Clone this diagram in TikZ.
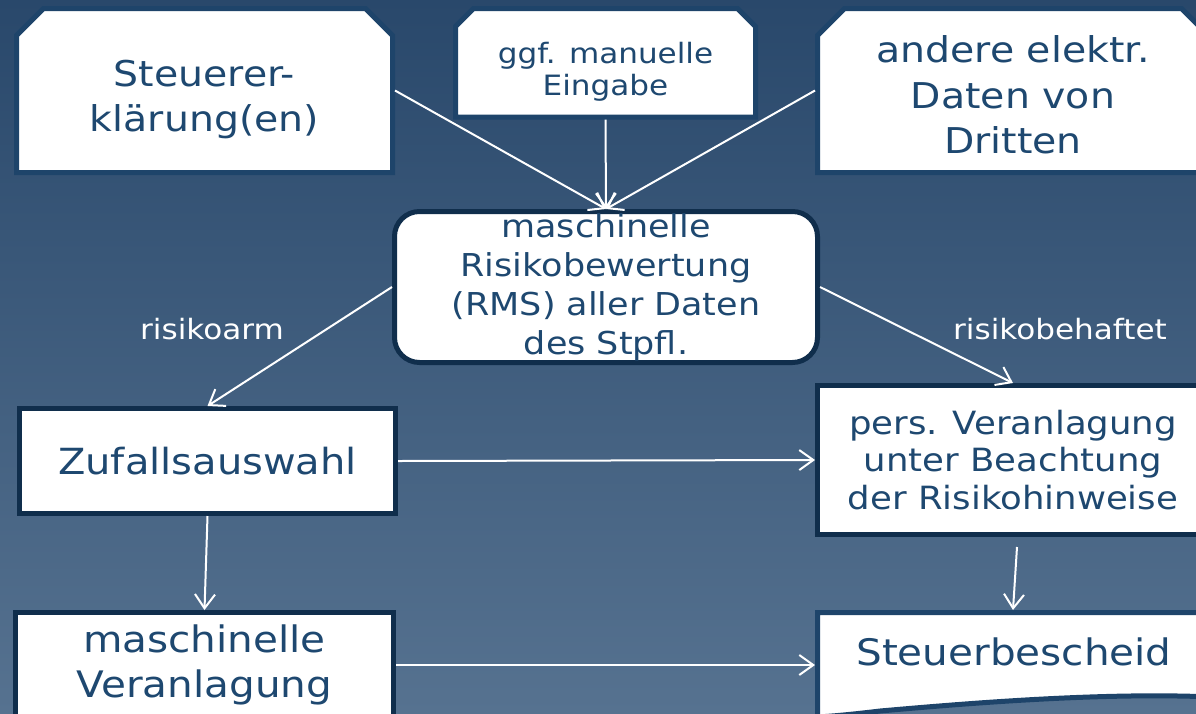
\documentclass[tikz,border=0pt]{standalone}
\usepackage{fontspec}
\setmainfont{DejaVu Sans}[FakeStretch=1.11]
\usetikzlibrary{arrows.meta,calc}
\definecolor{bgtop}{RGB}{41,72,107}
\definecolor{bgbot}{RGB}{86,114,144}
\definecolor{txtblue}{RGB}{30,72,112}
\definecolor{rimblue}{RGB}{30,68,106}
\definecolor{rimdark}{RGB}{16,46,76}
\newcommand{\snipframe}[2]{
	\filldraw[snip_line] ($(#1.south west)+(2.5,-2.5)$) -- ($(#1.north west)+(2.5,2.5+#2)$) -- ($(#1.north west)+(2.5+#2,2.5)$)
		-- ($(#1.north east)+(-2.5-#2,2.5)$) -- ($(#1.north east)+(-2.5,2.5+#2)$) -- ($(#1.south east)+(-2.5,-2.5)$) -- cycle;
}

\begin{document}
\begin{tikzpicture}[x=1pt,y=-1pt,>={Straight Barb[length=14pt,width=20pt]}]
		\tikzstyle{snip_box}=[rectangle, inner sep=0pt, outer sep=2.5pt];
		\tikzstyle{snip_line}=[draw=rimblue, fill=white, line width=5pt];
		\tikzstyle{flow_box}=[rectangle, draw=rimdark, fill=white, line width=5pt, inner sep=0pt, text=txtblue, align=center];
		\tikzstyle{box_text}=[text=txtblue, align=center, inner sep=0pt];
		\tikzstyle{label_edge}=[text=white, inner sep=0pt, font=\fontsize{28}{34}\selectfont];
		\tikzstyle{flow_arrow}=[->, white, line width=2pt];

		\useasboundingbox (0,0) rectangle (1196,713);
		\clip (0,0) rectangle (1196,713);
		\shade[top color=bgtop, bottom color=bgbot] (0,0) rectangle (1196,713);

		% inputs
		\node[snip_box, minimum width=376pt, minimum height=164pt] (erkl) at (204.5,90.5) {};
		\snipframe{erkl}{27}
		\node[box_text, font=\fontsize{35.5}{45}\selectfont] (erkl_t) at (204.5,100) {Steuerer-\\klärung(en)};
		\node[snip_box, minimum width=300pt, minimum height=108.5pt] (eingabe) at (605.5,62.75) {};
		\snipframe{eingabe}{18}
		\node[box_text, font=\fontsize{28}{32}\selectfont] (eingabe_t) at (605.5,72) {ggf. manuelle\\Eingabe};
		\node[snip_box, minimum width=391pt, minimum height=164pt] (dritte) at (1013,90.5) {};
		\snipframe{dritte}{27}
		\node[box_text, font=\fontsize{35.5}{45.5}\selectfont] (dritte_t) at (1013,95) {andere elektr.\\Daten von\\Dritten};

		% risk check
		\node[flow_box, rounded corners=25pt, minimum width=423pt, minimum height=151pt, font=\fontsize{31.5}{39}\selectfont] (rms) at (606,287) {maschinelle\\Risikobewertung\\(RMS) aller Daten\\des Stpfl.};

		\node[flow_box, minimum width=376pt, minimum height=105pt, font=\fontsize{36}{45}\selectfont] (zufall) at (207.5,461) {Zufallsauswahl};
		\node[flow_box, minimum width=391pt, minimum height=149pt, font=\fontsize{32}{37.5}\selectfont] (pers) at (1013,460) {pers. Veranlagung\\unter Beachtung\\der Risikohinweise};
		\node[flow_box, minimum width=378pt, minimum height=105pt, font=\fontsize{36.5}{45}\selectfont] (masch) at (204.5,665) {maschinelle\\Veranlagung};

		% result document
		\node[snip_box, minimum width=391pt, minimum height=105pt] (bescheid) at (1013,665) {};
		\filldraw[snip_line] (817.5,612.5) -- (1212,612.5) -- (1212,697) .. controls (1100,692) and (960,704) .. (880,711) .. controls (855,714) and (835,716) .. (817.5,717) -- cycle;
		\node[box_text, font=\fontsize{36.5}{45}\selectfont] (bescheid_t) at (1014,652) {Steuerbescheid};

		\draw[flow_arrow] (erkl.east) -- (rms.north);
		\draw[flow_arrow] (eingabe.south) -- (rms.north);
		\draw[flow_arrow] (dritte.west) -- (rms.north);
		\draw[flow_arrow] (rms.west) -- (zufall.north);
		\draw[flow_arrow] (rms.east) -- (pers.north);
		\draw[flow_arrow] (zufall.east) -- (pers.west);
		\draw[flow_arrow] (zufall.south) -- (masch.north);
		\draw[flow_arrow] ([xshift=4pt,yshift=-10pt]pers.south) -- (bescheid.north);
		\draw[flow_arrow] (masch.east) -- (bescheid.west);

		\node[label_edge] (arm) at (212,329) {risikoarm};
		\node[label_edge] (behaftet) at (1060,329) {risikobehaftet};
\end{tikzpicture}
\end{document}
